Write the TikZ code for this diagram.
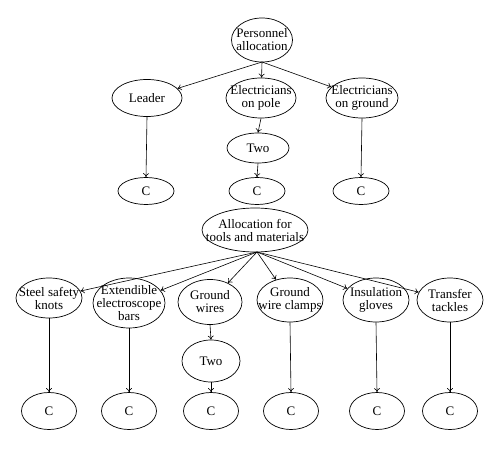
\documentclass[tikz,border=0pt]{standalone}
\usepackage{fontspec}
\setmainfont{Liberation Serif}
\usetikzlibrary{shapes.geometric,arrows.meta}
\tikzset{
  ell/.style={draw, ellipse, line width=0.7pt, inner sep=0pt},
  txt/.style={align=center, inner sep=0pt, font=\fontsize{13}{13}\selectfont},
  arr/.style={line width=0.6pt, -{To[length=4pt,width=6pt]}}
}
\begin{document}
\begin{tikzpicture}[x=1pt,y=-1pt]
\useasboundingbox (0,0) rectangle (500,449);
% top tree
\node[ell, minimum width=61pt, minimum height=44pt, label={[txt]center:Personnel\\allocation}] (P) at (262,40) {};
\node[ell, minimum width=70pt, minimum height=37pt, label={[txt]center:Leader}] (L) at (147,98) {};
\node[ell, minimum width=70pt, minimum height=40pt, label={[txt]center:Electricians\\on pole}] (EP) at (261,98) {};
\node[ell, minimum width=72pt, minimum height=40pt, label={[txt]center:Electricians\\on ground}] (EG) at (362,98) {};
\node[ell, minimum width=62pt, minimum height=30pt, label={[txt]center:Two}] (T1) at (258,148) {};
\node[ell, minimum width=56pt, minimum height=27pt, label={[txt]center:C}] (C1) at (146,191) {};
\node[ell, minimum width=56pt, minimum height=27pt, label={[txt]center:C}] (C2) at (257,191) {};
\node[ell, minimum width=56pt, minimum height=27pt, label={[txt]center:C}] (C3) at (361,191) {};
\coordinate (Pb) at (262,62);
\draw[arr] (Pb) -- (L);
\draw[arr] (Pb) -- (EP);
\draw[arr] (Pb) -- (EG);
\draw[arr] (L.south) -- (C1.north);
\draw[arr] (EP.south) -- (T1.north);
\draw[arr] (T1.south) -- (C2.north);
\draw[arr] (EG.south) -- (C3.north);
% bottom tree
\node[ell, minimum width=106pt, minimum height=44pt, label={[txt]center:Allocation for\\tools and materials}] (A) at (255,230) {};
\node[ell, minimum width=66pt, minimum height=40pt, label={[txt]center:Steel safety\\knots}] (S) at (49,298) {};
\node[ell, minimum width=72pt, minimum height=50pt, label={[txt]center:Extendible\\electroscope\\bars}] (E) at (129,303) {};
\node[ell, minimum width=64pt, minimum height=45pt, label={[txt]center:Ground\\wires}] (GW) at (210,302) {};
\node[ell, minimum width=66pt, minimum height=44pt, label={[txt]center:Ground\\wire clamps}] (GC) at (290,300) {};
\node[ell, minimum width=66pt, minimum height=44pt, label={[txt]center:Insulation\\gloves}] (IG) at (376,300) {};
\node[ell, minimum width=66pt, minimum height=44pt, label={[txt]center:Transfer\\tackles}] (TT) at (450,300) {};
\node[ell, minimum width=58pt, minimum height=42pt, label={[txt]center:Two}] (T2) at (211,361) {};
\node[ell, minimum width=55pt, minimum height=37pt, label={[txt]center:C}] (D1) at (49,411) {};
\node[ell, minimum width=55pt, minimum height=37pt, label={[txt]center:C}] (D2) at (129,411) {};
\node[ell, minimum width=55pt, minimum height=37pt, label={[txt]center:C}] (D3) at (211,411) {};
\node[ell, minimum width=55pt, minimum height=37pt, label={[txt]center:C}] (D4) at (291,411) {};
\node[ell, minimum width=55pt, minimum height=37pt, label={[txt]center:C}] (D5) at (377,411) {};
\node[ell, minimum width=55pt, minimum height=37pt, label={[txt]center:C}] (D6) at (450,411) {};
\coordinate (Ab) at (257,252);
\draw[arr] (Ab) -- (S);
\draw[arr] (Ab) -- (E);
\draw[arr] (Ab) -- (GW);
\draw[arr] (Ab) -- (GC);
\draw[arr] (Ab) -- (IG);
\draw[arr] (Ab) -- (TT);
\draw[arr] (S.south) -- (D1.north);
\draw[arr] (E.south) -- (D2.north);
\draw[arr] (GW.south) -- (T2.north);
\draw[arr] (T2.south) -- (D3.north);
\draw[arr] (GC.south) -- (D4.north);
\draw[arr] (IG.south) -- (D5.north);
\draw[arr] (TT.south) -- (D6.north);
\end{tikzpicture}
\end{document}
